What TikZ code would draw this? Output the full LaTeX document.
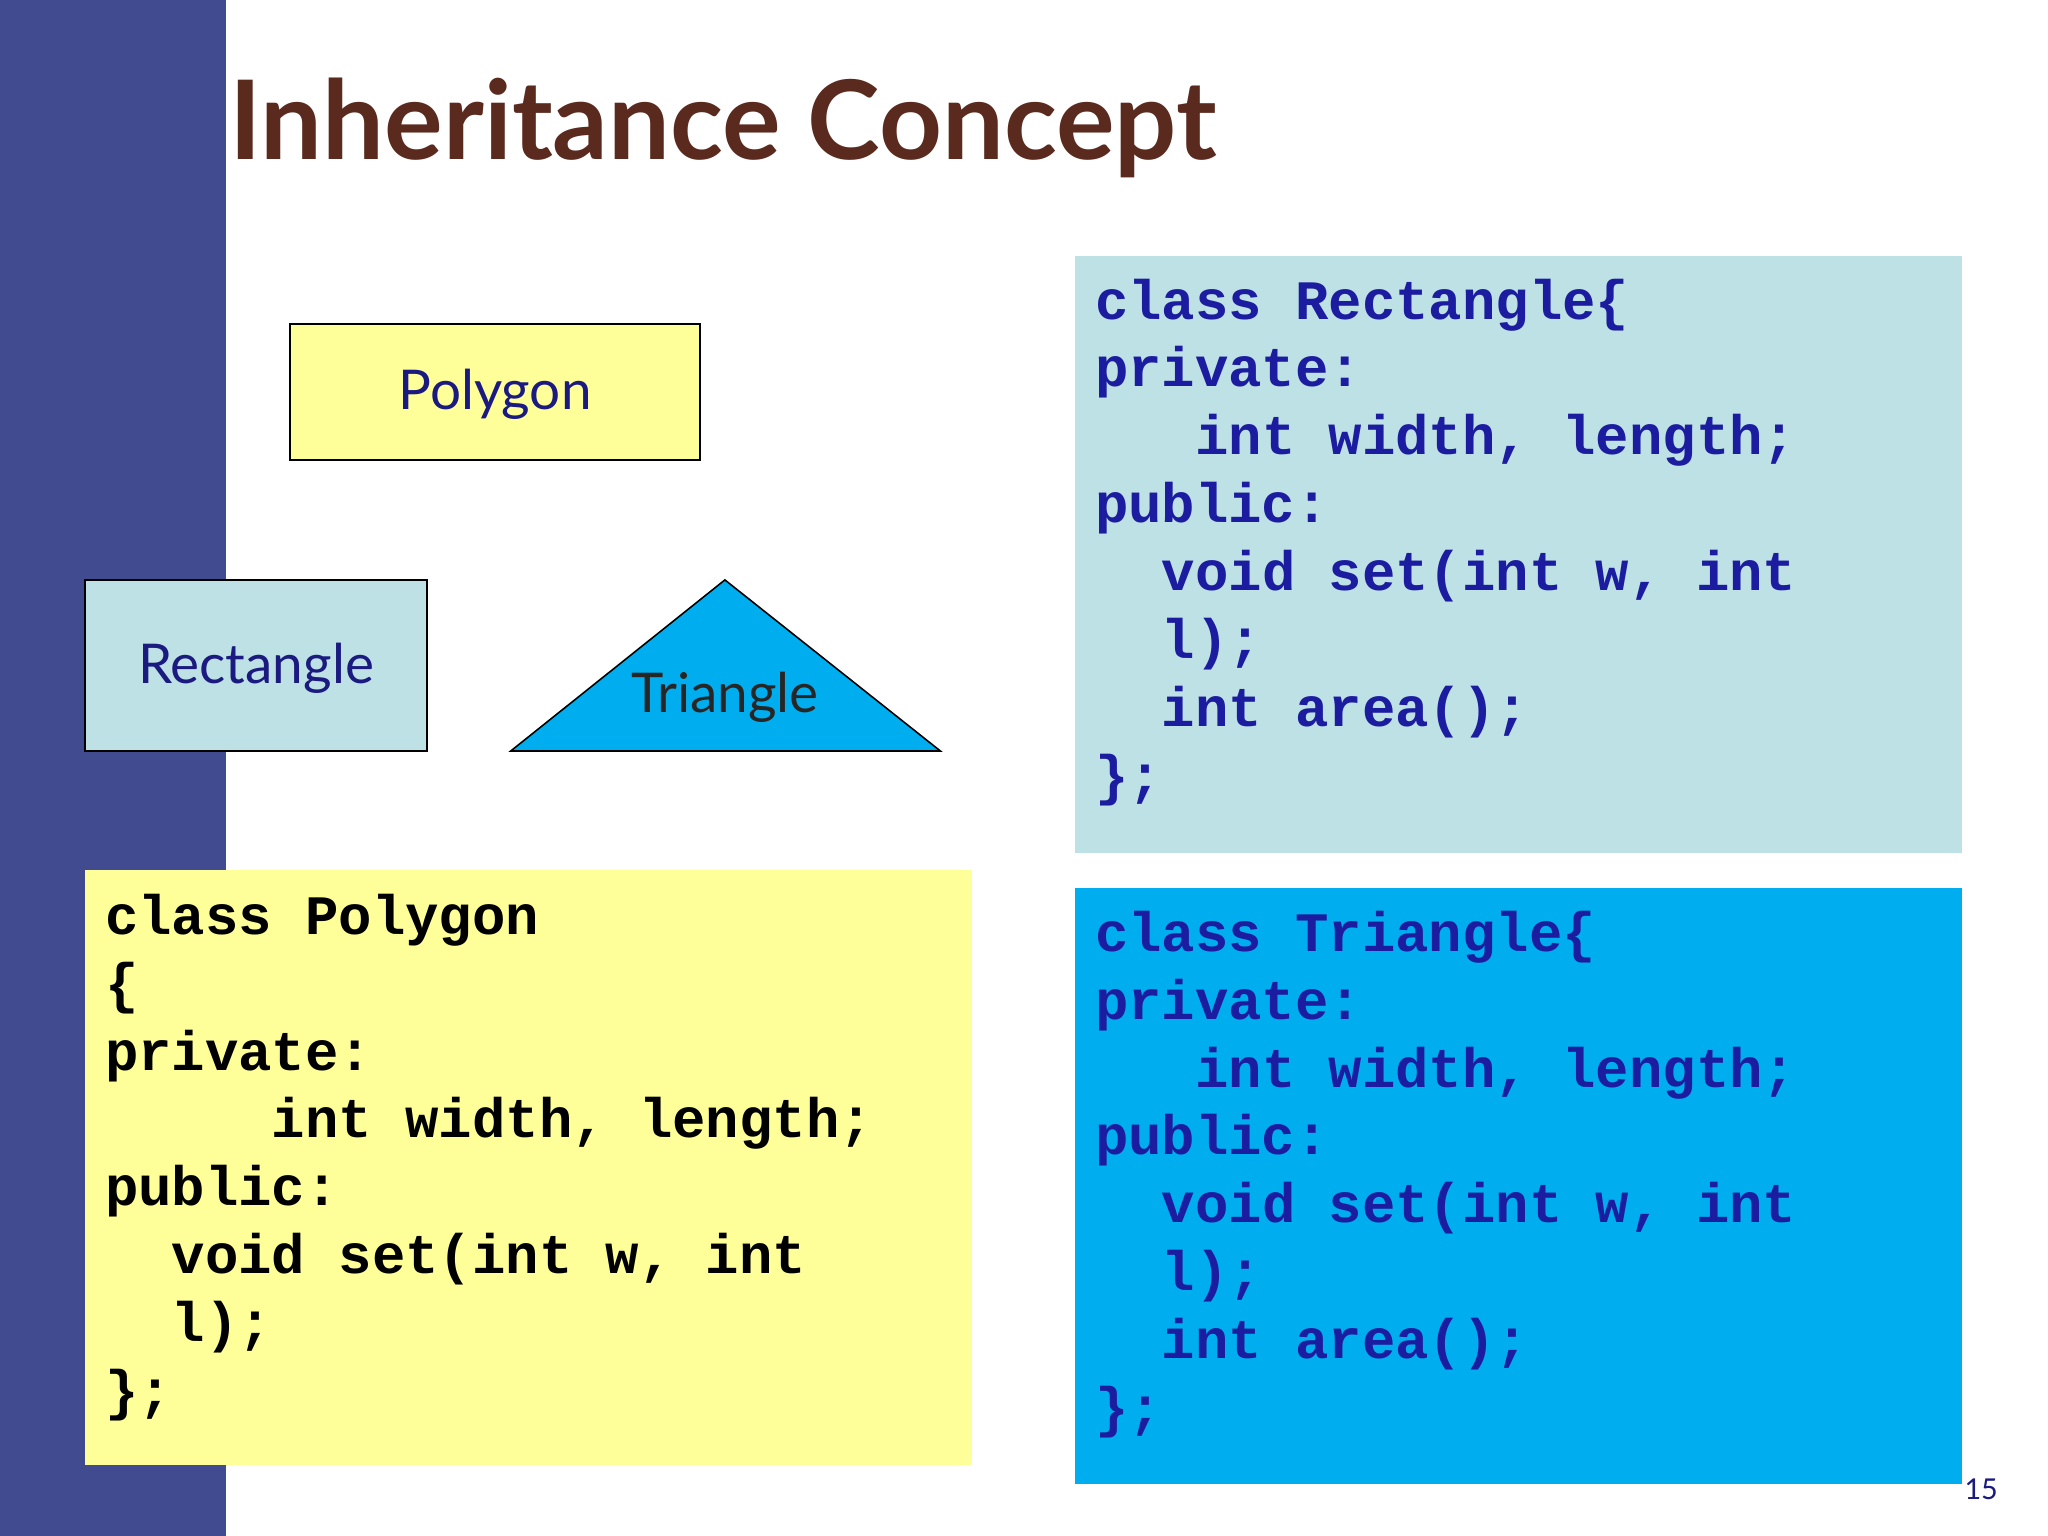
\documentclass[tikz,border=0pt]{standalone}
\usepackage{fontspec}
\setmainfont{Lato}
\setmonofont{Liberation Mono}
\definecolor{band}{HTML}{414B8F}
\definecolor{titlebrown}{HTML}{5A2A1E}
\definecolor{paleyellow}{HTML}{FFFF99}
\definecolor{paleblue}{HTML}{BDE1E4}
\definecolor{skyblue}{HTML}{00AEEF}
\definecolor{navy}{HTML}{1A1A80}
\definecolor{codeblue}{HTML}{1C1CA0}
\tikzset{
  shapebox/.style={draw=black, line width=0.6pt},
  shapelabel/.style={text=navy, font=\fontsize{21}{24}\selectfont},
  codetext/.style={anchor=north west, inner sep=0pt, align=left,
    font=\fontsize{21.3}{26}\selectfont\ttfamily\bfseries}
}
\begin{document}
\begin{tikzpicture}[x=0.5pt,y=-0.5pt]
	\useasboundingbox (0,0) rectangle (1568,1176);
	\fill[white] (0,0) rectangle (1568,1176);
	\fill[band] (0,0) rectangle (173,1176);

	\node (title) [anchor=base west, inner sep=0pt, text=titlebrown, font=\fontsize{42}{48}\selectfont\bfseries] at (175,122) {Inheritance Concept};

	% class shapes
	\draw[shapebox, fill=paleyellow] (222,248) rectangle (536,352);
	\node (polygon) [shapelabel] at (379,302) {Polygon};
	\draw[shapebox, fill=paleblue] (65,444) rectangle (327,575);
	\node (rectangle) [shapelabel] at (196,512) {Rectangle};
	\draw[shapebox, fill=skyblue] (391,575) -- (555,444) -- (720,575) -- cycle;
	\node (triangle) [shapelabel, text=black!85] at (555,534) {Triangle};

	% code boxes
	\fill[paleblue] (823,196) rectangle (1502,653);
	\node (rectcode) [codetext, text=codeblue] at (838,213) {class Rectangle\{\\private:\\~~~int width, length;\\public:\\~~void set(int w, int\\~~l);\\~~int area();\\\};};
	\fill[skyblue] (823,680) rectangle (1502,1136);
	\node (tricode) [codetext, text=codeblue] at (838,697) {class Triangle\{\\private:\\~~~int width, length;\\public:\\~~void set(int w, int\\~~l);\\~~int area();\\\};};
	\fill[paleyellow] (65,666) rectangle (744,1122);
	\node (polycode) [codetext, text=black] at (80,684) {class Polygon\\\{\\private:\\~~~~~int width, length;\\public:\\~~void set(int w, int\\~~l);\\\};};

	\node (page) [anchor=base east, inner sep=0pt, text=navy, font=\fontsize{11}{12}\selectfont\rmfamily] at (1530,1148) {15};
\end{tikzpicture}
\end{document}
